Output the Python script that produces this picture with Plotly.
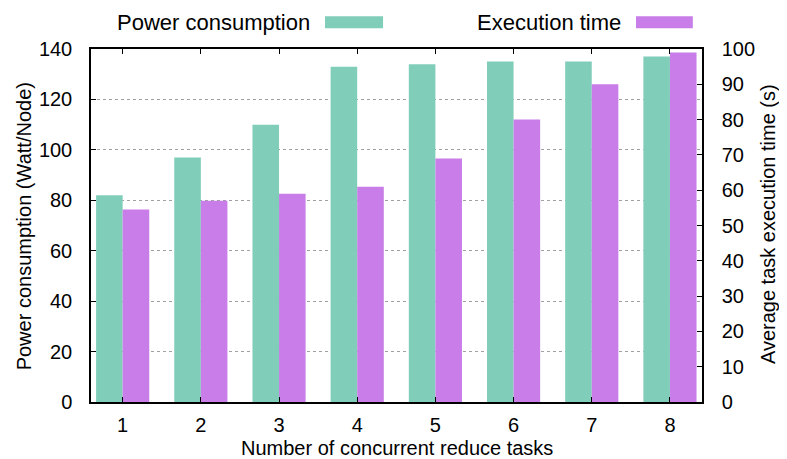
import plotly.graph_objects as go

# values
tasks = [1, 2, 3, 4, 5, 6, 7, 8]
power_watt = [82, 97, 110, 133, 134, 135, 135, 137]
exec_time_s = [54.5, 57, 59, 61, 69, 80, 90, 99]

left_ticks = [0, 20, 40, 60, 80, 100, 120, 140]
right_ticks = [0, 10, 20, 30, 40, 50, 60, 70, 80, 90, 100]

GREEN = "#80ceb9"
PURPLE = "#c87de8"
FAMILY = "Liberation Sans, Arial, sans-serif"
TICK_FONT = dict(family=FAMILY, size=20, color="black")
TITLE_FONT = dict(family=FAMILY, size=20, color="black")
KEY_FONT = dict(family=FAMILY, size=22, color="black")

fig = go.Figure()
fig.add_trace(go.Bar(x=tasks, y=power_watt, name="Power consumption",
                     marker=dict(color=GREEN, line=dict(width=0)),
                     offsetgroup="p", yaxis="y"))
fig.add_trace(go.Bar(x=tasks, y=exec_time_s, name="Execution time",
                     marker=dict(color=PURPLE, line=dict(width=0)),
                     offsetgroup="e", yaxis="y2"))

axis_common = dict(showline=True, linecolor="black", linewidth=1.5,
                   ticks="inside", tickcolor="black", ticklen=5,
                   zeroline=False, automargin=False, tickfont=TICK_FONT)

# the page body has an 8px margin, so the figure is 8px smaller than the window
fig.update_layout(
    width=779, height=451,
    margin=dict(l=83, r=85, t=41, b=57),
    paper_bgcolor="white", plot_bgcolor="white",
    font=TICK_FONT,
    showlegend=False,
    barmode="group", bargap=0.32, bargroupgap=0,
    xaxis=dict(**axis_common, mirror="ticks", ticklabelstandoff=4,
               range=[0.595, 8.41], tickvals=tasks, showgrid=False),
    yaxis=dict(**axis_common, range=[0, 140], tickvals=left_ticks,
               ticklabelstandoff=13,
               showgrid=True, gridcolor="#a0a0a0", griddash="dot", gridwidth=1),
    yaxis2=dict(**axis_common, range=[0, 100], tickvals=right_ticks,
                ticklabelstandoff=14,
                overlaying="y", side="right", showgrid=False),
)

# axis titles placed like gnuplot's
titles = [
    ("Number of concurrent reduce tasks", 0.5, -0.13, 0),
    ("Power consumption (Watt/Node)", -0.11, 0.497, -90),
    ("Average task execution time (s)", 1.108, 0.504, -90),
]
for text, x, y, angle in titles:
    fig.add_annotation(text=text, xref="paper", yref="paper", x=x, y=y,
                       xanchor="center", yanchor="middle", textangle=angle,
                       showarrow=False, font=TITLE_FONT)

# gnuplot-style key above the plot
key = [("Power consumption", GREEN, 0.383, 0.478),
       ("Execution time", PURPLE, 0.892, 0.985)]
for label, color, x0, x1 in key:
    fig.add_shape(type="rect", xref="paper", yref="paper",
                  x0=x0, x1=x1, y0=1.059, y1=1.093,
                  fillcolor=color, line=dict(width=0))
    fig.add_annotation(text=label, xref="paper", yref="paper",
                       x=x0 - 0.022, y=1.076, xanchor="right", yanchor="middle",
                       showarrow=False, font=KEY_FONT)

fig.write_html("out.html")
